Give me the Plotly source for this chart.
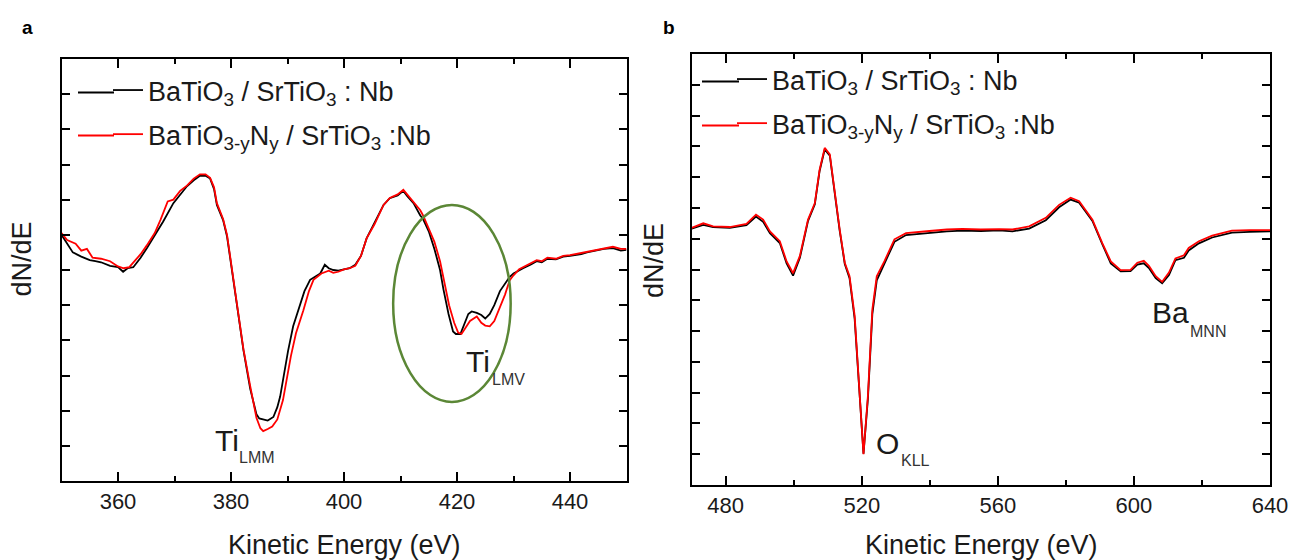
import plotly.graph_objects as go

# ---------------- Panel a: Ti LMM / LMV region ----------------
a_black_E = [350, 351, 352, 353.5, 355, 356, 357, 358.6, 360, 360.9, 361.7, 362.7, 364, 365.1, 366.5, 368,
             369.8, 371, 372.2, 373.4, 374.5, 375.5, 376.3, 377, 377.5, 378.6, 379.3, 379.8, 381, 382.2,
             383.4, 384.5, 385, 385.7, 386.5, 387.5, 388.2, 388.7, 390.1, 391, 392.2, 393, 394, 395.8,
             396.6, 397.3, 398.1, 399, 400, 401, 402, 403, 404, 405.4, 406.4, 407, 408.1, 409.5, 410.5,
             411.2, 412.3, 413.5, 414, 415, 416, 417, 417.6, 418.5, 419.3, 419.8, 420.6, 421.3, 422,
             422.6, 423.5, 424.3, 425, 425.8, 426.6, 427.6, 428.4, 429.3, 430, 431, 431.7, 433, 434.1,
             435, 436, 437.5, 438.8, 440, 441, 442, 443, 444.7, 446, 447.6, 449, 450]
a_black_v = [7.0, 6.75, 6.5, 6.38, 6.28, 6.25, 6.22, 6.12, 6.08, 5.95, 6.05, 6.08, 6.35, 6.62, 6.98, 7.38,
             7.9, 8.15, 8.38, 8.55, 8.68, 8.68, 8.6, 8.3, 7.85, 7.42, 6.95, 6.4, 5.0, 3.72,
             2.62, 1.9, 1.78, 1.75, 1.72, 1.82, 2.1, 2.4, 3.7, 4.4, 4.98, 5.4, 5.72, 5.9,
             6.15, 6.05, 6.0, 5.98, 6.02, 6.05, 6.15, 6.4, 6.9, 7.35, 7.66, 7.85, 8.04, 8.12, 8.25,
             8.1, 7.9, 7.55, 7.45, 7.1, 6.6, 6.0, 5.45, 4.75, 4.25, 4.18, 4.18, 4.45, 4.75,
             4.82, 4.78, 4.72, 4.62, 4.75, 5.0, 5.4, 5.6, 5.8, 5.9, 6.0, 6.05, 6.15, 6.25,
             6.22, 6.32, 6.3, 6.38, 6.4, 6.42, 6.45, 6.5, 6.55, 6.6, 6.62, 6.55, 6.57]

a_red_E = [350, 351, 352.5, 353.5, 354.5, 355.5, 357, 358.6, 360, 361, 362, 362.7, 364, 365.1, 366.5,
           367.5, 368.8, 369.8, 371, 372.2, 373.4, 374.5, 375.5, 376.3, 377, 377.5, 378.6, 379.3, 379.8,
           381, 382.2, 383.4, 384.5, 385.2, 385.7, 386.5, 387.3, 388.2, 389.2, 390.6, 391.5, 392.8,
           393.8, 394.6, 396, 397.3, 398.1, 399, 400, 401, 402, 403, 404, 405.4, 406.4, 407, 408.1,
           409.5, 410.5, 411.2, 412.3, 413.5, 414, 415, 416, 417, 417.8, 418.6, 419.5, 420.2, 420.8,
           421.5, 422.3, 423.5, 424.3, 425, 425.8, 426.6, 427.5, 428.5, 429.3, 430, 431, 432, 433,
           434.1, 435, 436, 437.5, 438.8, 440, 441, 442, 443, 444.7, 446, 447.6, 449, 450]
a_red_v = [7.05, 6.85, 6.75, 6.55, 6.6, 6.35, 6.32, 6.25, 6.1, 6.05, 6.08, 6.2, 6.45, 6.7, 7.05,
           7.42, 7.95, 8.0, 8.25, 8.4, 8.6, 8.72, 8.72, 8.62, 8.35, 7.9, 7.45, 7.0, 6.45,
           5.0, 3.75, 2.7, 1.8, 1.5, 1.42, 1.48, 1.55, 1.75, 2.3, 3.55, 4.2, 4.85,
           5.4, 5.72, 5.9, 5.98, 5.92, 5.95, 6.02, 6.05, 6.12, 6.4, 6.9, 7.3, 7.62, 7.85, 8.05,
           8.15, 8.28, 8.15, 7.95, 7.7, 7.55, 7.2, 6.8, 6.25, 5.6, 5.0, 4.5, 4.22, 4.18,
           4.35, 4.55, 4.68, 4.5, 4.42, 4.4, 4.55, 4.9, 5.3, 5.7, 5.85, 6.02, 6.1, 6.18,
           6.28, 6.25, 6.35, 6.32, 6.4, 6.42, 6.45, 6.5, 6.52, 6.58, 6.62, 6.66, 6.6, 6.6]

# ---------------- Panel b: O KLL / Ba MNN region ----------------
b_black_E = [470, 473.4, 476.3, 481.2, 486.1, 488.9, 491, 493, 495.9, 497.9, 499.8, 501.8, 504.2, 506.2,
             507.6, 509.1, 510.6, 512, 513.5, 515, 516.4, 517.9, 519.4, 520.5, 521.8, 523.1, 524.4,
             526.7, 529.6, 533, 539.9, 545, 549.6, 555, 560.4, 564.3, 569.2, 574.1, 578, 581.4, 583.9,
             587.8, 590.7, 593.2, 596.1, 599, 601, 602.9, 604.4, 606.4, 608.3, 610.3, 612.2, 614.7,
             616.1, 619.1, 623, 628.8, 634, 640]
b_black_v = [8.33, 8.45, 8.38, 8.35, 8.44, 8.72, 8.55, 8.18, 7.86, 7.2, 6.8, 7.38, 8.58, 9.12,
             10.2, 10.9, 10.7, 9.45, 8.26, 7.18, 6.72, 5.4, 2.85, 1.02, 2.8, 5.55, 6.65,
             7.18, 7.9, 8.12, 8.2, 8.24, 8.26, 8.25, 8.27, 8.24, 8.33, 8.6, 9.02, 9.27, 9.17,
             8.58, 7.82, 7.2, 6.94, 6.95, 7.16, 7.2, 7.05, 6.72, 6.55, 6.82, 7.3, 7.38,
             7.62, 7.85, 8.04, 8.2, 8.22, 8.24]

b_red_E = [470, 473.4, 476.3, 481.2, 486.1, 488.9, 491, 493, 495.9, 497.9, 499.8, 501.8, 504.2, 506.2,
           507.6, 509.1, 510.6, 512, 513.5, 515, 516.4, 517.9, 519.4, 520.5, 521.8, 523.1, 524.4,
           526.7, 529.6, 533, 539.9, 545, 549.6, 555, 560.4, 564.3, 569.2, 574.1, 578, 581.4, 583.9,
           587.8, 590.7, 593.2, 596.1, 599, 601, 602.9, 604.4, 606.4, 608.3, 610.3, 612.2, 614.7,
           616.1, 619.1, 623, 628.8, 634, 640]
b_red_v = [8.35, 8.5, 8.4, 8.38, 8.48, 8.78, 8.62, 8.24, 7.92, 7.26, 6.88, 7.44, 8.62, 9.16,
           10.24, 10.95, 10.74, 9.5, 8.3, 7.22, 6.78, 5.5, 2.9, 1.0, 2.9, 5.7, 6.78,
           7.28, 7.98, 8.18, 8.25, 8.3, 8.32, 8.3, 8.31, 8.3, 8.4, 8.68, 9.1, 9.33, 9.22,
           8.62, 7.86, 7.26, 6.98, 6.99, 7.22, 7.28, 7.12, 6.78, 6.6, 6.9, 7.36, 7.46,
           7.7, 7.92, 8.1, 8.26, 8.28, 8.28]

series_names = ["BaTiO<sub>3</sub> / SrTiO<sub>3</sub> : Nb",
                "BaTiO<sub>3-y</sub>N<sub>y</sub> / SrTiO<sub>3</sub> :Nb"]
series_colors = ["#000000", "#FF0000"]

x_ticks_a = [360, 380, 400, 420, 440]
x_ticks_b = [480, 520, 560, 600, 640]

FONT = "Liberation Sans, Arial, sans-serif"
TXT = "#1a1a1a"

fig = go.Figure()
for i, (E, v) in enumerate([(a_black_E, a_black_v), (a_red_E, a_red_v)]):
    fig.add_trace(go.Scatter(x=E, y=v, mode="lines", name=series_names[i],
                             line=dict(color=series_colors[i], width=1.8), xaxis="x", yaxis="y",
                             legend="legend", legendgroup="a%d" % i))
for i, (E, v) in enumerate([(b_black_E, b_black_v), (b_red_E, b_red_v)]):
    fig.add_trace(go.Scatter(x=E, y=v, mode="lines", name=series_names[i],
                             line=dict(color=series_colors[i], width=1.8), xaxis="x2", yaxis="y2",
                             legend="legend2", legendgroup="b%d" % i))

# Page body margin is reset to 0 by the post_script below, so figure == window
W, H = 1291, 560

def px(p):
    return p / W

def py(p):
    return 1 - p / H

def xd(p0, p1):
    return [px(p0), px(p1)]

def yd(top, bottom):
    return [py(bottom), py(top)]

axis_common = dict(showline=True, linecolor="black", linewidth=2, mirror="ticks",
                   ticks="inside", tickcolor="black", tickwidth=2, zeroline=False,
                   showgrid=False, automargin=False)

fig.update_layout(
    width=W, height=H,
    margin=dict(l=0, r=0, t=0, b=0),
    paper_bgcolor="white", plot_bgcolor="white",
    font=dict(family=FONT, color=TXT),
    xaxis=dict(domain=xd(61.5, 626.5), range=[350, 450], tickvals=x_ticks_a, ticklen=9,
               minor=dict(dtick=10, tick0=0, ticks="inside", ticklen=5, tickcolor="black", tickwidth=2),
               tickfont=dict(size=22, color=TXT), anchor="y", **axis_common),
    yaxis=dict(domain=yd(59, 481), range=[0, 12], dtick=1, tick0=0, ticklen=8,
               showticklabels=False, anchor="x", **axis_common),
    xaxis2=dict(domain=xd(691.7, 1270), range=[470, 640], tickvals=x_ticks_b, ticklen=9,
                minor=dict(dtick=20, tick0=0, ticks="inside", ticklen=5, tickcolor="black", tickwidth=2),
                tickfont=dict(size=22, color=TXT), anchor="y2", **axis_common),
    yaxis2=dict(domain=yd(54, 485), range=[0, 14], dtick=1, tick0=0, ticklen=8,
                showticklabels=False, anchor="x2", **axis_common),
    legend=dict(x=px(108), y=py(66), xanchor="left", yanchor="top",
                bgcolor="rgba(0,0,0,0)", font=dict(size=27, color=TXT),
                itemwidth=30, traceorder="grouped", tracegroupgap=6),
    legend2=dict(x=px(732), y=py(55), xanchor="left", yanchor="top",
                 bgcolor="rgba(0,0,0,0)", font=dict(size=27, color=TXT),
                 itemwidth=30, traceorder="grouped", tracegroupgap=6),
    showlegend=True,
)

# Ellipse highlighting the Ti LMV feature
fig.add_shape(type="circle", xref="x", yref="y", x0=408.7, x1=429.5, y0=2.25, y1=7.85,
              line=dict(color="#5B8736", width=2.5))

# longer legend swatches (the original legend samples are ~63 px long)
for (x0, x1, y, c) in [(78, 114, 92.5, series_colors[0]), (78, 114, 135.5, series_colors[1]),
                       (702, 739, 81.5, series_colors[0]), (702, 739, 125.5, series_colors[1])]:
    fig.add_shape(type="line", xref="paper", yref="paper", x0=px(x0), x1=px(x1), y0=py(y), y1=py(y),
                  line=dict(color=c, width=1.8))

ann = []

def peak_label(xref, yref, x, y, text, size, color=TXT):
    ann.append(dict(xref=xref, yref=yref, x=x, y=y, text=text, showarrow=False,
                    xanchor="left", yanchor="middle", font=dict(size=size, color=color)))

peak_label("x", "y", 376.9, 1.14, "Ti", 30)
peak_label("x", "y", 381.1, 0.67, "LMM", 16, "#333")
peak_label("x", "y", 421.2, 3.41, "Ti", 30)
peak_label("x", "y", 425.8, 2.9, "LMV", 16, "#333")
peak_label("x2", "y2", 523.6, 1.35, "O", 30)
peak_label("x2", "y2", 530.9, 0.78, "KLL", 16, "#333")
peak_label("x2", "y2", 604.6, 5.6, "Ba", 30)
peak_label("x2", "y2", 615.8, 5.0, "MNN", 16, "#333")

# axis titles
for x, y in [(344, 545), (981, 545)]:
    ann.append(dict(xref="paper", yref="paper", x=px(x), y=py(y), text="Kinetic Energy (eV)",
                    showarrow=False, xanchor="center", yanchor="middle",
                    font=dict(size=27, color=TXT)))
for x, y in [(21.5, 259), (654, 261)]:
    ann.append(dict(xref="paper", yref="paper", x=px(x), y=py(y), text="dN/dE", textangle=-90,
                    showarrow=False, xanchor="center", yanchor="middle",
                    font=dict(size=27, color=TXT)))

# panel letters
ann.append(dict(xref="paper", yref="paper", x=px(27.5), y=py(27), text="<b>a</b>", showarrow=False,
                xanchor="center", yanchor="middle", font=dict(size=19, color="black")))
ann.append(dict(xref="paper", yref="paper", x=px(669), y=py(27), text="<b>b</b>", showarrow=False,
                xanchor="center", yanchor="middle", font=dict(size=19, color="black")))

fig.update_layout(annotations=ann)

fig.write_html("out.html", config={"displayModeBar": False},
               post_script="document.body.style.margin='0px';document.body.style.overflow='hidden';")
